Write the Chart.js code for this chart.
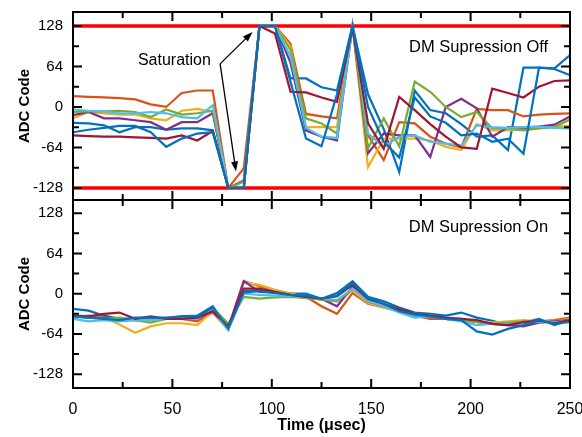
<!DOCTYPE html>
<html>
<head>
<meta charset="utf-8">
<script src="https://cdn.jsdelivr.net/npm/chart.js@4"></script>
<style>
  body { margin: 0; background: #fff; }
  #wrap { position: relative; width: 582px; height: 437px; }
  #wrap canvas { position: absolute; left: 0; }
  #offChart { top: 0; }
  #onChart { top: 195px; }
</style>
</head>
<body>
<div id="wrap">
  <canvas id="offChart" width="582" height="205"></canvas>
  <canvas id="onChart" width="582" height="242"></canvas>
</div>
<script>
// sample times, usec
var timeUs = [0, 7.8, 15.6, 23.4, 31.3, 39.1, 46.9, 54.7, 62.5, 70.3, 78.1, 85.9, 93.8, 101.6, 109.4, 117.2,
  125, 132.8, 140.6, 148.4, 156.3, 164.1, 171.9, 179.7, 187.5, 195.3, 203.1, 210.9, 218.8, 226.6, 234.4, 242.2, 250];

var xTicks = [0, 50, 100, 150, 200, 250];
var yTicks = [-128, -64, 0, 64, 128];
var satLimits = [128, -128];

var channelColors = ['#0072BD', '#D95319', '#EDB120', '#7E2F8E', '#77AC30', '#4DBEEE', '#A2142F', '#0072BD'];

// DM supression off (ADC codes per channel)
var offCh1 = [-25, -26, -29, -40, -32, -32, -36, -34, -34, -37, -128, -128, 128, 128, 45, 45, 31, 26, 128,
  20, -35, -103, 26, -5, -10, -27, -47, -45, -68, 62, 62, 61, 82];
var offCh2 = [17, 16, 15, 14, 12, 4, 0, 22, 26, 26, -128, -97, 128, 128, 100, -11, -15, -18, 128,
  -45, -84, -24, -26, -47, -58, -64, -3, -5, -5, -15, -12, -11, -10];
var offCh3 = [-18, -8, -10, -12, -12, -18, -21, -6, -3, -8, -128, -128, 128, 128, 95, -32, -32, -32, 128,
  -95, -50, -50, -50, -53, -63, -68, -27, -37, -37, -35, -33, -31, -30];
var offCh4 = [-13, -8, -18, -18, -21, -24, -36, -24, -24, -10, -128, -116, 128, 128, 70, -37, -47, -53, 128,
  -73, -42, -45, -45, -79, 0, 13, -2, -47, -32, -33, -31, -28, -15];
var offCh5 = [-8, -7, -7, -6, -8, -16, -4, -12, -10, -6, -128, -118, 128, 128, 90, -18, -26, -42, 128,
  -65, -18, -62, 40, 24, 0, -16, -8, -34, -34, -37, -34, -32, -20];
var offCh6 = [-4, -6, -7, -10, -10, -8, -10, -16, -18, 3, -128, -128, 128, 128, 80, -33, -47, -49, 128,
  -42, -63, -47, -45, -55, -58, -61, -29, -32, -33, -32, -31, -33, -34];
var offCh7 = [-45, -46, -47, -47, -48, -49, -50, -45, -53, -38, -128, -128, 128, 116, 24, 23, 15, 8, 125,
  -26, -66, 16, -5, -27, -47, -64, -66, 29, 22, 15, 32, 41, 42];
var offCh8 = [-40, -36, -33, -30, -30, -40, -63, -50, -42, -40, -128, -128, 128, 128, 40, -50, -62, 20, 128,
  0, -55, -80, 15, -15, -25, -45, -42, -55, -50, -74, 62, 60, 50];

// DM supression on
var onCh1 = [-24, -27, -35, -40, -40, -40, -40, -36, -35, -20, -55, 4, 6, 2, 0, 0, -8, 1, 20,
  -5, -12, -22, -30, -32, -35, -30, -38, -43, -50, -46, -40, -50, -42];
var onCh2 = [-38, -35, -38, -42, -42, -40, -40, -40, -44, -30, -57, 20, 12, 5, 0, -5, -20, -32, 1,
  -16, -22, -28, -35, -40, -40, -42, -45, -47, -48, -47, -44, -42, -38];
var onCh3 = [-35, -36, -38, -49, -62, -52, -47, -47, -50, -28, -58, 18, 14, 6, 0, -5, -10, -12, 5,
  -15, -22, -28, -32, -36, -40, -42, -45, -46, -44, -42, -44, -44, -40];
var onCh4 = [-36, -38, -38, -40, -42, -42, -40, -38, -40, -28, -54, 20, 3, 2, -2, -5, -8, -20, 11,
  -12, -20, -28, -34, -36, -40, -40, -45, -48, -50, -52, -46, -44, -42];
var onCh5 = [-38, -36, -40, -38, -42, -46, -40, -38, -36, -22, -48, -5, -8, -6, -5, -7, -9, -12, 8,
  -8, -18, -28, -35, -34, -40, -42, -45, -48, -46, -44, -45, -46, -42];
var onCh6 = [-40, -44, -42, -44, -42, -42, -40, -40, -40, -24, -58, 0, -2, -3, -4, -6, -8, -10, 8,
  -12, -20, -30, -38, -36, -40, -44, -50, -48, -48, -46, -44, -45, -44];
var onCh7 = [-35, -36, -32, -30, -40, -36, -40, -40, -38, -28, -52, 8, 8, 3, -2, -5, -8, -4, 14,
  -8, -16, -25, -32, -35, -38, -40, -42, -48, -50, -45, -43, -47, -42];
var onCh8 = [-36, -38, -40, -42, -38, -38, -38, -36, -36, -22, -55, 2, 4, 1, -2, -3, -8, -3, 17,
  -7, -16, -28, -33, -36, -40, -42, -60, -65, -56, -50, -42, -48, -45];

var FONT = '"Liberation Sans", Arial, sans-serif';

function toPoints(vals) {
  return vals.map(function (v, i) { return { x: timeUs[i], y: v }; });
}

// first dataset is painted last, so reverse to keep channel 8 on top
function channelSets(series) {
  var sets = series.map(function (vals, i) {
    return {
      data: toPoints(vals),
      borderColor: channelColors[i],
      borderWidth: 2.2,
      pointRadius: 0,
      tension: 0
    };
  });
  return sets.reverse();
}

function limitSets() {
  return satLimits.map(function (v) {
    return {
      data: [{ x: xTicks[0], y: v }, { x: xTicks[xTicks.length - 1], y: v }],
      borderColor: '#ff0000',
      borderWidth: 3.5,
      pointRadius: 0
    };
  });
}

// box around the plot with inward ticks on all four sides
var frameTicks = {
  id: 'frameTicks',
  afterDatasetsDraw: function (chart) {
    var ctx = chart.ctx, a = chart.chartArea, x = chart.scales.x, y = chart.scales.y;
    ctx.save();
    ctx.strokeStyle = '#000';
    ctx.lineWidth = 2;
    ctx.beginPath();
    function xTick(v, len) {
      var px = x.getPixelForValue(v);
      ctx.moveTo(px, a.top); ctx.lineTo(px, a.top + len);
      ctx.moveTo(px, a.bottom); ctx.lineTo(px, a.bottom - len);
    }
    function yTick(v, len) {
      var py = y.getPixelForValue(v);
      ctx.moveTo(a.left, py); ctx.lineTo(a.left + len, py);
      ctx.moveTo(a.right, py); ctx.lineTo(a.right - len, py);
    }
    xTicks.forEach(function (v, i) {
      xTick(v, 9);
      if (i > 0) xTick((v + xTicks[i - 1]) / 2, 6);
    });
    yTicks.forEach(function (v, i) {
      yTick(v, 9);
      if (i > 0) yTick((v + yTicks[i - 1]) / 2, 6);
    });
    ctx.stroke();
    ctx.strokeRect(a.left, a.top, a.right - a.left, a.bottom - a.top);
    ctx.restore();
  }
};

// text notes and arrows, placed in data units
var notes = {
  id: 'notes',
  afterDraw: function (chart, args, opts) {
    var ctx = chart.ctx, x = chart.scales.x, y = chart.scales.y;
    ctx.save();
    ctx.fillStyle = '#000';
    ctx.strokeStyle = '#000';
    ctx.textBaseline = 'middle';
    (opts.labels || []).forEach(function (l) {
      ctx.font = (l.size || 16) + 'px ' + FONT;
      ctx.textAlign = l.align;
      ctx.fillText(l.text, x.getPixelForValue(l.x), y.getPixelForValue(l.y));
    });
    (opts.arrows || []).forEach(function (ar) {
      var x0 = x.getPixelForValue(ar.from[0]), y0 = y.getPixelForValue(ar.from[1]);
      var x1 = x.getPixelForValue(ar.to[0]), y1 = y.getPixelForValue(ar.to[1]);
      var ang = Math.atan2(y1 - y0, x1 - x0);
      ctx.lineWidth = 1.3;
      ctx.beginPath();
      ctx.moveTo(x0, y0);
      ctx.lineTo(x1 - 6 * Math.cos(ang), y1 - 6 * Math.sin(ang));
      ctx.stroke();
      ctx.beginPath();
      ctx.moveTo(x1, y1);
      ctx.lineTo(x1 - 10 * Math.cos(ang) + 3.5 * Math.sin(ang), y1 - 10 * Math.sin(ang) - 3.5 * Math.cos(ang));
      ctx.lineTo(x1 - 10 * Math.cos(ang) - 3.5 * Math.sin(ang), y1 - 10 * Math.sin(ang) + 3.5 * Math.cos(ang));
      ctx.closePath();
      ctx.fill();
    });
    ctx.restore();
  }
};

function yAxis(min, max) {
  return {
    min: min,
    max: max,
    grid: { display: false, drawTicks: false },
    border: { display: false },
    afterBuildTicks: function (s) { s.ticks = yTicks.map(function (v) { return { value: v }; }); },
    afterFit: function (s) { s.width = 73; s.paddingTop = 0; s.paddingBottom = 0; },
    ticks: { color: '#000', padding: 10, font: { family: FONT, size: 15 } },
    title: {
      display: true, text: 'ADC Code', color: '#000',
      font: { family: FONT, size: 15, weight: 'bold' },
      padding: { top: 16, bottom: 0 }
    }
  };
}

var offChart = new Chart(document.getElementById('offChart'), {
  type: 'line',
  data: { datasets: channelSets([offCh1, offCh2, offCh3, offCh4, offCh5, offCh6, offCh7, offCh8]).concat(limitSets()) },
  options: {
    responsive: false,
    animation: false,
    devicePixelRatio: 1,
    layout: { padding: { top: 12, right: 12, bottom: 5, left: 0 } },
    plugins: {
      legend: { display: false },
      tooltip: { enabled: false },
      notes: {
        labels: [
          { text: 'Saturation', x: 51, y: 73, align: 'center' },
          { text: 'DM Supression Off', x: 239, y: 94, align: 'right', size: 16.5 }
        ],
        arrows: [
          { from: [74, 68], to: [90.3, 118.5] },
          { from: [74, 68], to: [82, -102] }
        ]
      }
    },
    scales: {
      x: { type: 'linear', min: 0, max: 250, display: false },
      y: yAxis(-147, 150)
    }
  },
  plugins: [frameTicks, notes]
});

var onChart = new Chart(document.getElementById('onChart'), {
  type: 'line',
  data: { datasets: channelSets([onCh1, onCh2, onCh3, onCh4, onCh5, onCh6, onCh7, onCh8]) },
  options: {
    responsive: false,
    animation: false,
    devicePixelRatio: 1,
    layout: { padding: { top: 5, right: 12, bottom: 0, left: 0 } },
    plugins: {
      legend: { display: false },
      tooltip: { enabled: false },
      notes: {
        labels: [{ text: 'DM Supression On', x: 239, y: 105, align: 'right', size: 16.5 }]
      }
    },
    scales: {
      x: {
        type: 'linear',
        min: 0,
        max: 250,
        grid: { display: false, drawTicks: false },
        border: { display: false },
        afterBuildTicks: function (s) { s.ticks = xTicks.map(function (v) { return { value: v }; }); },
        afterFit: function (s) { s.height = 49; s.paddingLeft = 0; s.paddingRight = 0; },
        ticks: { color: '#000', padding: 12, maxRotation: 0, autoSkip: false, font: { family: FONT, size: 16 } },
        title: {
          display: true, text: 'Time (μsec)', color: '#000',
          font: { family: FONT, size: 16, weight: 'bold' },
          padding: { top: 0, bottom: 2 }
        }
      },
      y: yAxis(-150, 149)
    }
  },
  plugins: [frameTicks, notes]
});
</script>
</body>
</html>
